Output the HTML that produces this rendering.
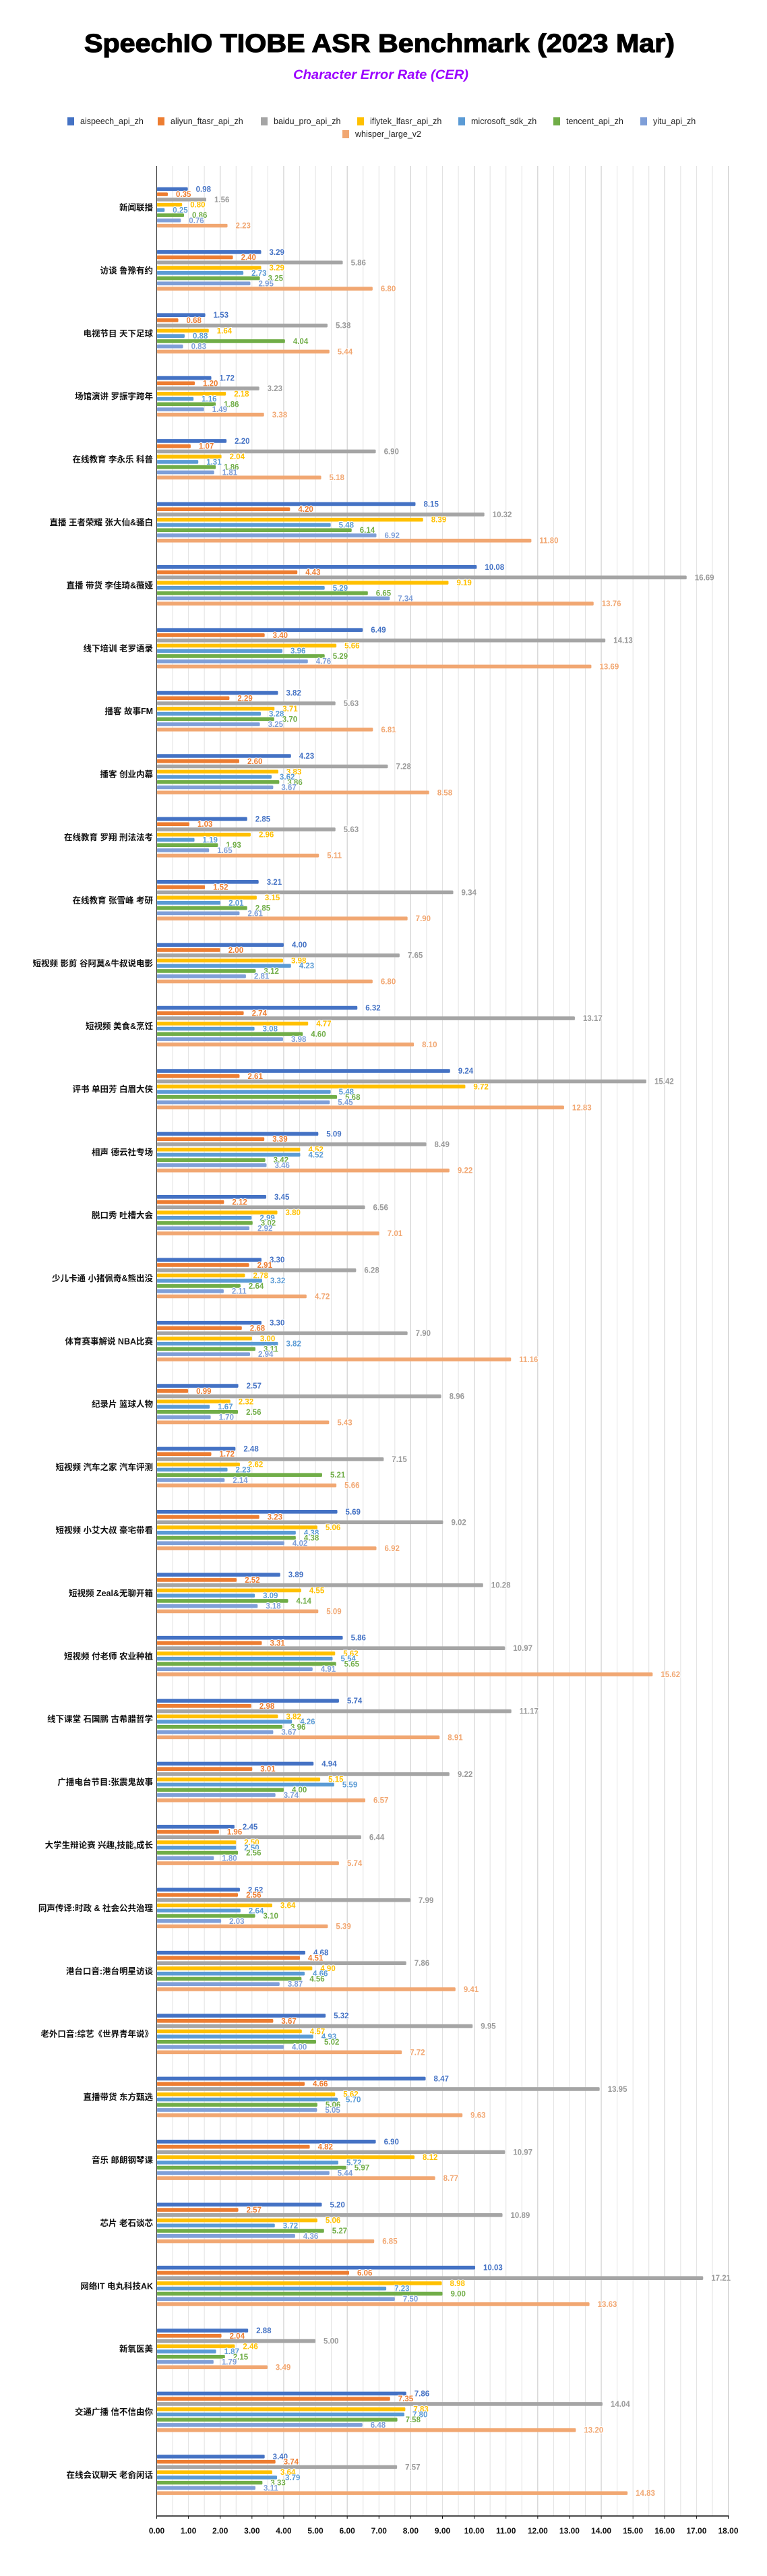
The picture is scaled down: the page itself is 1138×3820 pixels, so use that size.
<!DOCTYPE html>
<html><head><meta charset="utf-8">
<style>
html,body{margin:0;padding:0;background:#fff;}
svg{display:block;}
</style></head>
<body>
<svg id="chart" width="1138" height="3820" viewBox="0 0 1138 3820" xmlns="http://www.w3.org/2000/svg" font-family="Liberation Sans, Noto Sans CJK SC, sans-serif">
<rect x="0" y="0" width="1138" height="3820" fill="#fff"/>
<text x="563" y="77" text-anchor="middle" font-size="38" font-weight="bold" textLength="876" lengthAdjust="spacingAndGlyphs" fill="#000" stroke="#000" stroke-width="1.2">SpeechIO TIOBE ASR Benchmark (2023 Mar)</text>
<text x="565" y="117" text-anchor="middle" font-size="19" font-style="italic" font-weight="bold" textLength="260" lengthAdjust="spacingAndGlyphs" fill="#9B00FF">Character Error Rate (CER)</text>
<g id="legend"></g>
<g id="grid"></g>
<g id="bars"></g>
<g id="axis"></g>
</svg>
<script>
const series = ["aispeech_api_zh","aliyun_ftasr_api_zh","baidu_pro_api_zh","iflytek_lfasr_api_zh","microsoft_sdk_zh","tencent_api_zh","yitu_api_zh","whisper_large_v2"];
const categories = ["新闻联播","访谈 鲁豫有约","电视节目 天下足球","场馆演讲 罗振宇跨年","在线教育 李永乐 科普","直播 王者荣耀 张大仙&骚白","直播 带货 李佳琦&薇娅","线下培训 老罗语录","播客 故事FM","播客 创业内幕","在线教育 罗翔 刑法法考","在线教育 张雪峰 考研","短视频 影剪 谷阿莫&牛叔说电影","短视频 美食&烹饪","评书 单田芳 白眉大侠","相声 德云社专场","脱口秀 吐槽大会","少儿卡通 小猪佩奇&熊出没","体育赛事解说 NBA比赛","纪录片 篮球人物","短视频 汽车之家 汽车评测","短视频 小艾大叔 豪宅带看","短视频 Zeal&无聊开箱","短视频 付老师 农业种植","线下课堂 石国鹏 古希腊哲学","广播电台节目:张震鬼故事","大学生辩论赛 兴趣,技能,成长","同声传译:时政 & 社会公共治理","港台口音:港台明星访谈","老外口音:综艺《世界青年说》","直播带货 东方甄选","音乐 郎朗钢琴课","芯片 老石谈芯","网络IT 电丸科技AK","新氧医美","交通广播 信不信由你","在线会议聊天 老俞闲话"];
const aispeech = [0.98,3.29,1.53,1.72,2.20,8.15,10.08,6.49,3.82,4.23,2.85,3.21,4.00,6.32,9.24,5.09,3.45,3.30,3.30,2.57,2.48,5.69,3.89,5.86,5.74,4.94,2.45,2.62,4.68,5.32,8.47,6.90,5.20,10.03,2.88,7.86,3.40];
const aliyun = [0.35,2.40,0.68,1.20,1.07,4.20,4.43,3.40,2.29,2.60,1.03,1.52,2.00,2.74,2.61,3.39,2.12,2.91,2.68,0.99,1.72,3.23,2.52,3.31,2.98,3.01,1.96,2.56,4.51,3.67,4.66,4.82,2.57,6.06,2.04,7.35,3.74];
const baidu = [1.56,5.86,5.38,3.23,6.90,10.32,16.69,14.13,5.63,7.28,5.63,9.34,7.65,13.17,15.42,8.49,6.56,6.28,7.90,8.96,7.15,9.02,10.28,10.97,11.17,9.22,6.44,7.99,7.86,9.95,13.95,10.97,10.89,17.21,5.00,14.04,7.57];
const iflytek = [0.80,3.29,1.64,2.18,2.04,8.39,9.19,5.66,3.71,3.83,2.96,3.15,3.98,4.77,9.72,4.52,3.80,2.78,3.00,2.32,2.62,5.06,4.55,5.62,3.82,5.15,2.50,3.64,4.90,4.57,5.62,8.12,5.06,8.98,2.46,7.83,3.64];
const microsoft = [0.25,2.73,0.88,1.16,1.31,5.48,5.29,3.96,3.28,3.62,1.19,2.01,4.23,3.08,5.48,4.52,2.99,3.32,3.82,1.67,2.23,4.38,3.09,5.54,4.26,5.59,2.50,2.64,4.66,4.93,5.70,5.72,3.72,7.23,1.87,7.80,3.79];
const tencent = [0.86,3.25,4.04,1.86,1.86,6.14,6.65,5.29,3.70,3.86,1.93,2.85,3.12,4.60,5.68,3.42,3.02,2.64,3.11,2.56,5.21,4.38,4.14,5.65,3.96,4.00,2.56,3.10,4.56,5.02,5.06,5.97,5.27,9.00,2.15,7.58,3.33];
const yitu = [0.76,2.95,0.83,1.49,1.81,6.92,7.34,4.76,3.25,3.67,1.65,2.61,2.81,3.98,5.45,3.46,2.92,2.11,2.94,1.70,2.14,4.02,3.18,4.91,3.67,3.74,1.80,2.03,3.87,4.00,5.05,5.44,4.36,7.50,1.79,6.48,3.11];
const whisper = [2.23,6.80,5.44,3.38,5.18,11.80,13.76,13.69,6.81,8.58,5.11,7.90,6.80,8.10,12.83,9.22,7.01,4.72,11.16,5.43,5.66,6.92,5.09,15.62,8.91,6.57,5.74,5.39,9.41,7.72,9.63,8.77,6.85,13.63,3.49,13.20,14.83];
const tickLabels = ["0.00","1.00","2.00","3.00","4.00","5.00","6.00","7.00","8.00","9.00","10.00","11.00","12.00","13.00","14.00","15.00","16.00","17.00","18.00"];

const allSeries = [aispeech,aliyun,baidu,iflytek,microsoft,tencent,yitu,whisper];
const colors = ["#4472C4","#ED7D31","#A5A5A5","#FFC000","#5B9BD5","#70AD47","#7F9FD8","#F1A772"];
const NS = "http://www.w3.org/2000/svg";
const X0 = 232.5, X1 = 1080.5, XMAX = 18;
const PLOT_TOP = 246, AXIS_Y = 3731;
const FIRST_C = 307.5, LAST_C = 3670;
function xs(v){ return X0 + (X1 - X0) * v / XMAX; }
function yc(i){ return FIRST_C + (LAST_C - FIRST_C) * i / (categories.length - 1); }
function mk(tag, attrs, parent){ const e = document.createElementNS(NS, tag); for (const k in attrs) e.setAttribute(k, attrs[k]); parent.appendChild(e); return e; }

const legend = document.getElementById('legend');
const legPos = [[100,180],[234,180],[387,180],[530,180],[680,180],[821,180],[950,180],[508,199]];
series.forEach((s, k) => {
  const g = mk('g', {}, legend);
  
  
  mk('rect', {x: legPos[k][0], y: legPos[k][1]-6, width: 10, height: 12, fill: colors[k]}, g);
  const t = mk('text', {x: legPos[k][0]+19, y: legPos[k][1]+4, 'font-size': 12.5, fill: '#222'}, g);
  t.textContent = s;
});

const grid = document.getElementById('grid');
for (let v = 0.5; v <= XMAX + 0.001; v += 0.5) {
  const ln = mk('line', {x1: xs(v), x2: xs(v), y1: PLOT_TOP, y2: AXIS_Y, stroke: (Math.abs(v % 2) < 0.01) ? '#c8c8c8' : '#e2e2e2', 'stroke-width': 1}, grid);
  
  
}

const barsG = document.getElementById('bars');
const PITCH = 7.75, BH = 5.6;
categories.forEach((c, i) => {
  const cy = yc(i);
  const g = mk('g', {}, barsG);
  
  
  const lab = mk('text', {x: 227, y: cy + 4.5, 'text-anchor': 'end', 'font-size': 12.5, 'font-weight': 'bold', fill: '#111'}, g);
  
  
  lab.textContent = c;
  allSeries.forEach((arr, k) => {
    const v = arr[i];
    const y = cy + (k - 3.5) * PITCH;
    const r = mk('rect', {x: X0, y: y - BH/2, width: Math.max(0, xs(v) - X0), height: BH, rx: 1.5, fill: colors[k]}, g);
    
    
    const t = mk('text', {x: xs(v) + 12, y: y + 4, 'font-size': 11.5, 'font-weight': 'bold', fill: k === 2 ? '#9a9a9a' : colors[k], stroke: '#fff', 'stroke-width': 2, 'paint-order': 'stroke'}, g);
    
    
    t.textContent = v.toFixed(2);
  });
});

const axis = document.getElementById('axis');
mk('line', {x1: X0, x2: X0, y1: PLOT_TOP, y2: AXIS_Y, stroke: '#333', 'stroke-width': 1}, axis);
mk('line', {x1: X0, x2: X1 + 1, y1: AXIS_Y, y2: AXIS_Y, stroke: '#111', 'stroke-width': 1.5}, axis);
tickLabels.forEach((lbl, j) => {
  const x = xs(j);
  mk('line', {x1: x, x2: x, y1: AXIS_Y, y2: AXIS_Y + 4, stroke: '#111', 'stroke-width': 1}, axis);
  const t = mk('text', {x: x, y: AXIS_Y + 26, 'text-anchor': 'middle', 'font-size': 12, 'font-weight': 'bold', fill: '#111'}, axis);
  
  
  t.textContent = lbl;
});
</script>
</body></html>
